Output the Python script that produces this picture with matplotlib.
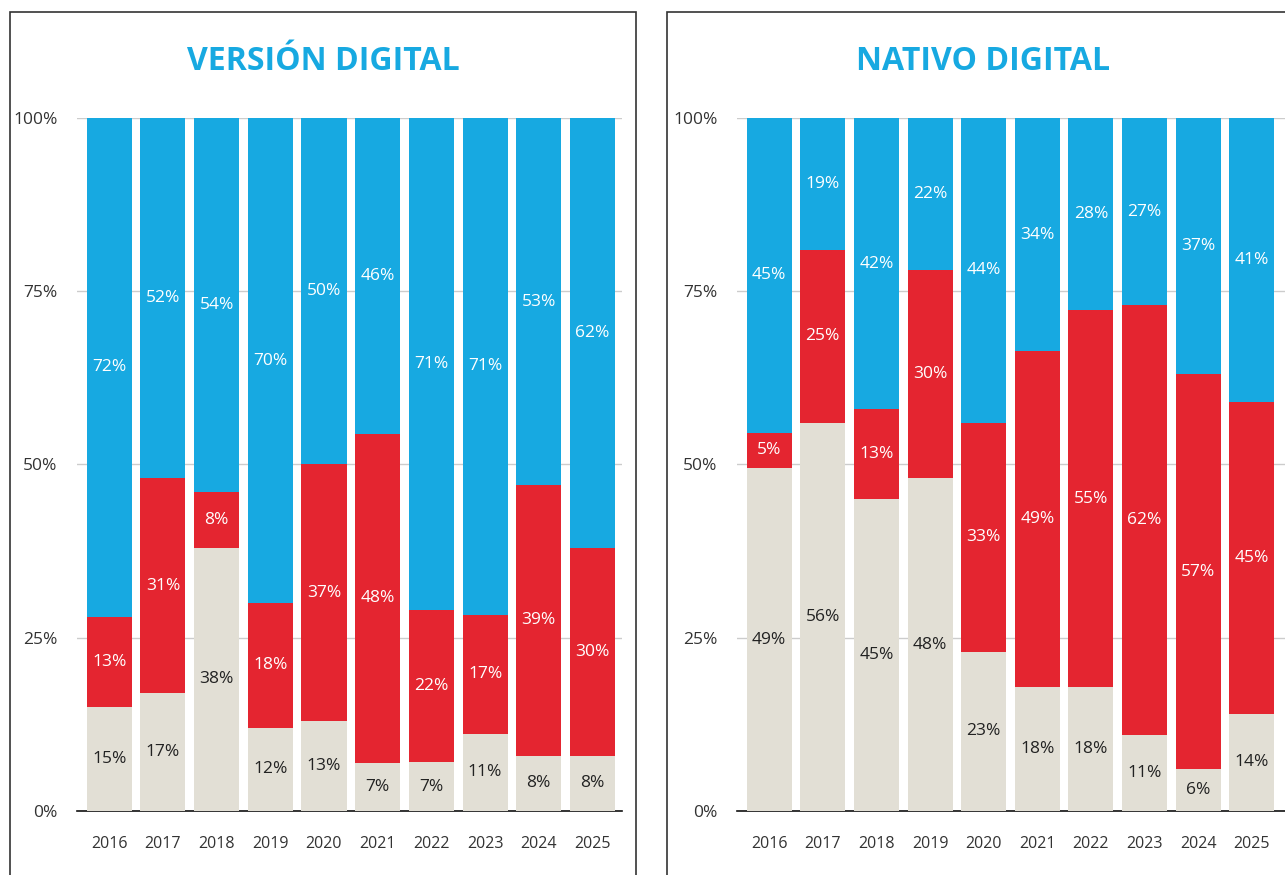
import matplotlib
matplotlib.use("Agg")
import matplotlib.pyplot as plt
from matplotlib.patches import Rectangle
import numpy as np

plt.rcParams['font.family'] = ['Open Sans', 'DejaVu Sans']

years = ["2016", "2017", "2018", "2019", "2020", "2021", "2022", "2023", "2024", "2025"]

# VERSIÓN DIGITAL
vd_beige = [15, 17, 38, 12, 13, 7, 7, 11, 8, 8]
vd_red = [13, 31, 8, 18, 37, 48, 22, 17, 39, 30]
vd_blue = [72, 52, 54, 70, 50, 46, 71, 71, 53, 62]

# NATIVO DIGITAL
nd_beige = [49, 56, 45, 48, 23, 18, 18, 11, 6, 14]
nd_red = [5, 25, 13, 30, 33, 49, 55, 62, 57, 45]
nd_blue = [45, 19, 42, 22, 44, 34, 28, 27, 37, 41]

titles = ["VERSIÓN DIGITAL", "NATIVO DIGITAL"]
yticks = [0, 25, 50, 75, 100]
ytick_labels = ["0%", "25%", "50%", "75%", "100%"]

BLUE = "#17A9E1"
RED = "#E42530"
BEIGE = "#E2DFD5"

fig = plt.figure(figsize=(12.85, 8.75), dpi=100)

# panel frames
fig.patches.append(Rectangle((10/1285, -0.2), (636-10)/1285, 0.2 + 1 - 12/875,
                             transform=fig.transFigure, fill=False,
                             edgecolor="#333333", linewidth=1.2))
fig.patches.append(Rectangle((667/1285, -0.2), 0.6, 0.2 + 1 - 12/875,
                             transform=fig.transFigure, fill=False,
                             edgecolor="#333333", linewidth=1.2))

axes_specs = [
    (77/1285, (622-77)/1285, (-0.6, 9.55), 323/1285),
    (737/1285, (1285-737)/1285, (-0.6, 9.62), 983/1285),
]
datasets = [(vd_beige, vd_red, vd_blue), (nd_beige, nd_red, nd_blue)]

bottom_f = 1 - 811/875
height_f = (811 - 118)/875

for (left, width, xlim, tx), (beige, red, blue), title in zip(axes_specs, datasets, titles):
    ax = fig.add_axes([left, bottom_f, width, height_f])
    x = np.arange(len(years))
    total = np.array(beige, float) + np.array(red, float) + np.array(blue, float)
    # normalise each column to 100% (labels are rounded shares)
    beige_a = np.array(beige, float) / total * 100
    red_a = np.array(red, float) / total * 100
    blue_a = np.array(blue, float) / total * 100
    w = 0.84
    ax.bar(x, beige_a, width=w, color=BEIGE, zorder=2)
    ax.bar(x, red_a, width=w, bottom=beige_a, color=RED, zorder=2)
    ax.bar(x, blue_a, width=w, bottom=beige_a + red_a, color=BLUE, zorder=2)

    for i in range(len(years)):
        ax.text(x[i], beige_a[i]/2, f"{beige[i]}%", ha="center", va="center",
                fontsize=12.5, color="#222222", zorder=3)
        ax.text(x[i], beige_a[i] + red_a[i]/2, f"{red[i]}%", ha="center", va="center",
                fontsize=12.5, color="white", zorder=3)
        ax.text(x[i], beige_a[i] + red_a[i] + blue_a[i]/2, f"{blue[i]}%", ha="center",
                va="center", fontsize=12.5, color="white", zorder=3)

    ax.set_xlim(*xlim)
    ax.set_ylim(0, 100)
    ax.set_yticks(yticks)
    ax.set_yticklabels(ytick_labels)
    ax.set_xticks(x)
    ax.set_xticklabels(years)
    ax.tick_params(axis="y", length=0, pad=14, labelsize=12.5, labelcolor="#333333")
    ax.tick_params(axis="x", length=0, pad=18, labelsize=11.5, labelcolor="#333333")
    for s in ["top", "right", "left"]:
        ax.spines[s].set_visible(False)
    ax.spines["bottom"].set_color("#111111")
    ax.spines["bottom"].set_linewidth(1.2)
    ax.spines["bottom"].set_zorder(1)
    ax.yaxis.grid(True, color="#cccccc", linewidth=1.0, zorder=0)
    ax.set_axisbelow(True)
    ax.patch.set_alpha(0)

    fig.text(tx, 1 - 62/875, title, ha="center", va="center", fontsize=23,
             fontweight="bold", color=BLUE)

fig.savefig("out.png", dpi=100)
